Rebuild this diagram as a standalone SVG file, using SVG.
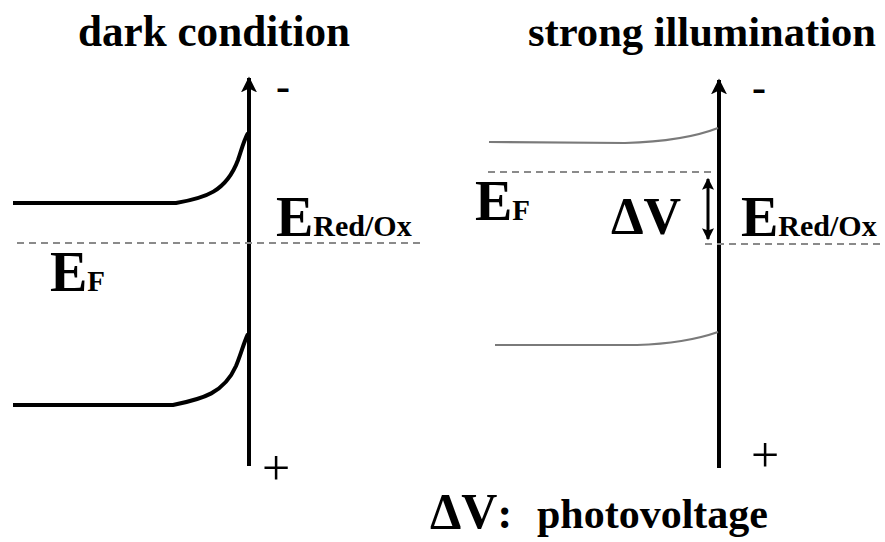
<svg xmlns="http://www.w3.org/2000/svg" width="885" height="542" viewBox="0 0 885 542">
<style>
.t{font-family:"Liberation Serif","DejaVu Serif",serif;font-weight:bold;fill:#000}
.n{font-family:"Liberation Serif","DejaVu Serif",serif;fill:#000}
.band{fill:none;stroke:#000;stroke-width:4}
.lband{fill:none;stroke:#7a7a7a;stroke-width:2.2}
.axis{fill:none;stroke:#000;stroke-width:4}
.dash{fill:none;stroke:#8a8a8a;stroke-width:2;stroke-dasharray:7 5}
</style>
<defs>
<marker id="ah" viewBox="0 0 10 10" refX="9" refY="5" markerWidth="4" markerHeight="4" orient="auto-start-reverse" markerUnits="strokeWidth">
<path d="M0,0 L10,5 L0,10 L2.5,5 Z" fill="#000"/>
</marker>
<marker id="ah2" viewBox="0 0 10 10" refX="9" refY="5" markerWidth="4.5" markerHeight="4" orient="auto-start-reverse" markerUnits="strokeWidth">
<path d="M0,0 L10,5 L0,10 L2,5 Z" fill="#000"/>
</marker>
</defs>
<rect width="885" height="542" fill="#fff"/>

<g id="title-dark"><text class="t" x="78" y="46" font-size="44" textLength="272" lengthAdjust="spacingAndGlyphs">dark condition</text></g>
<g id="title-light"><text class="t" x="528" y="46" font-size="42" textLength="348" lengthAdjust="spacingAndGlyphs">strong illumination</text></g>

<g id="connectors">
<line class="axis" x1="249" y1="466" x2="249" y2="78" marker-end="url(#ah)"/>
<line class="axis" x1="719" y1="468" x2="719" y2="80" marker-end="url(#ah)"/>
<line class="dash" x1="17" y1="243" x2="425" y2="243"/>
<line class="dash" x1="488" y1="172" x2="716" y2="172"/>
<line class="dash" x1="705" y1="244" x2="882" y2="244"/>
<line x1="708" y1="179" x2="708" y2="239" stroke="#000" stroke-width="3" marker-start="url(#ah2)" marker-end="url(#ah2)"/>
</g>

<g id="dark-cb"><path class="band" d="M13,203 L176,203 C205,198 226,192 238,160 C242,148 244,140 248,133"/></g>
<g id="dark-vb"><path class="band" d="M13,405 L173,405 C203,399 224,393 236,366 C241,354 244,342 248,334"/></g>
<g id="light-cb"><path class="lband" d="M489,142 L625,143 C660,142 695,137 718,128"/></g>
<g id="light-vb"><path class="lband" d="M495,345 L637,345 C670,344 698,339 718,332"/></g>

<g id="label-ef-left"><text class="t" x="50" y="291" font-size="56">E<tspan font-size="29">F</tspan></text></g>
<g id="label-ered-left"><text class="t" x="276" y="236" font-size="56">E<tspan font-size="30">Red/Ox</tspan></text></g>
<g id="label-ef-right"><text class="t" x="475" y="220" font-size="56">E<tspan font-size="29">F</tspan></text></g>
<g id="label-ered-right"><text class="t" x="741" y="236" font-size="56">E<tspan font-size="30">Red/Ox</tspan></text></g>
<g id="label-dv"><text class="t" x="611" y="234" font-size="52">ΔV</text></g>

<g id="signs">
<text class="t" x="276" y="100" font-size="42">-</text>
<text class="t" x="752" y="101" font-size="42">-</text>
<text class="n" x="262" y="485" font-size="50">+</text>
<text class="n" x="751" y="472" font-size="50">+</text>
</g>

<g id="legend"><text class="t" x="430" y="528" font-size="50">ΔV<tspan font-size="44">: </tspan><tspan x="537" font-size="42">photovoltage</tspan></text></g>
</svg>
